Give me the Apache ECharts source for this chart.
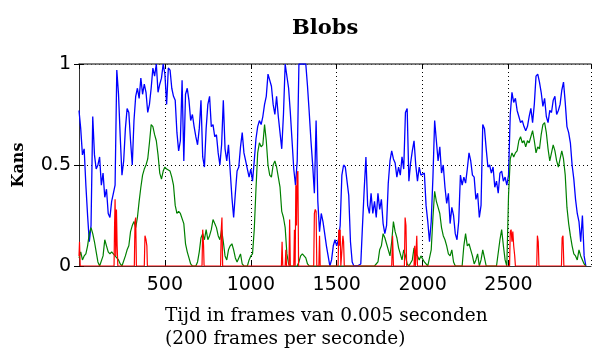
<!DOCTYPE html>
<html>
<head>
<meta charset="utf-8">
<script src="https://cdn.jsdelivr.net/npm/echarts@6/dist/echarts.min.js"></script>
<style>
  html, body { margin: 0; padding: 0; background: #fff; }
  #container { width: 593px; height: 349px; }
</style>
</head>
<body>
<div id="container"></div>
<script>
// frame step between samples (frames)
var frameStep = 10;

// blue: f = 0, 10, 20, ... 2950
var blueValues = [
  0.77, 0.68, 0.55, 0.58, 0.40, 0.25, 0.12, 0.20, 0.74, 0.55,
  0.48, 0.50, 0.54, 0.40, 0.46, 0.34, 0.38, 0.26, 0.24, 0.32,
  0.36, 0.40, 0.97, 0.85, 0.64, 0.45, 0.52, 0.68, 0.78, 0.76,
  0.62, 0.50, 0.72, 0.84, 0.88, 0.83, 0.93, 0.85, 0.90, 0.86,
  0.76, 0.80, 0.88, 0.98, 0.94, 1.00, 0.86, 0.90, 0.93, 1.00,
  0.95, 0.80, 0.98, 0.97, 0.88, 0.84, 0.82, 0.66, 0.57, 0.62,
  0.92, 0.52, 0.85, 0.88, 0.82, 0.72, 0.75, 0.69, 0.64, 0.60,
  0.68, 0.82, 0.54, 0.49, 0.68, 0.80, 0.84, 0.69, 0.70, 0.64,
  0.65, 0.56, 0.50, 0.60, 0.82, 0.58, 0.52, 0.60, 0.47, 0.34,
  0.24, 0.36, 0.47, 0.49, 0.59, 0.66, 0.56, 0.52, 0.48, 0.44,
  0.48, 0.42, 0.52, 0.63, 0.69, 0.72, 0.70, 0.74, 0.80, 0.84,
  0.95, 0.92, 0.89, 0.80, 0.75, 0.84, 0.74, 0.66, 0.58, 0.75,
  1.00, 1.00, 0.88, 0.76, 0.62, 0.48, 0.40, 0.52, 1.00, 1.00,
  1.00, 1.00, 1.00, 0.89, 0.76, 0.62, 0.50, 0.36, 0.72, 0.32,
  0.17, 0.26, 0.22, 0.16, 0.10, 0.05, 0.00, 0.03, 0.10, 0.13,
  0.10, 0.13, 0.20, 0.45, 0.50, 0.49, 0.49, 0.35, 0.12, 0.02,
  0.00, 0.00, 0.00, 0.00, 0.01, 0.20, 0.38, 0.54, 0.30, 0.26,
  0.36, 0.26, 0.32, 0.24, 0.36, 0.28, 0.33, 0.21, 0.16, 0.20,
  0.41, 0.52, 0.57, 0.53, 0.51, 0.44, 0.49, 0.45, 0.54, 0.48,
  0.76, 0.78, 0.42, 0.51, 0.57, 0.62, 0.50, 0.42, 0.49, 0.45,
  0.45, 0.46, 0.30, 0.22, 0.12, 0.22, 0.44, 0.72, 0.62, 0.52,
  0.59, 0.46, 0.50, 0.39, 0.31, 0.36, 0.21, 0.29, 0.25, 0.16,
  0.13, 0.22, 0.45, 0.40, 0.44, 0.41, 0.48, 0.56, 0.52, 0.45,
  0.44, 0.33, 0.36, 0.24, 0.30, 0.70, 0.68, 0.58, 0.49, 0.50,
  0.46, 0.49, 0.39, 0.42, 0.36, 0.46, 0.47, 0.42, 0.44, 0.40,
  0.45, 0.75, 0.86, 0.81, 0.83, 0.77, 0.74, 0.71, 0.72, 0.69,
  0.67, 0.69, 0.74, 0.78, 0.71, 0.80, 0.94, 0.95, 0.91, 0.86,
  0.79, 0.83, 0.74, 0.71, 0.77, 0.76, 0.82, 0.84, 0.75, 0.77,
  0.80, 0.87, 0.91, 0.81, 0.69, 0.66, 0.61, 0.50, 0.43, 0.33,
  0.26, 0.22, 0.12, 0.25, 0.05, 0.00
];

// green: same frames as blue
var greenValues = [
  0.04, 0.07, 0.03, 0.05, 0.06, 0.10, 0.16, 0.19, 0.16, 0.12,
  0.07, 0.02, 0.00, 0.00, 0.05, 0.13, 0.10, 0.07, 0.06, 0.07,
  0.06, 0.05, 0.04, 0.03, 0.01, 0.00, 0.00, 0.05, 0.08, 0.10,
  0.17, 0.20, 0.22, 0.19, 0.24, 0.32, 0.39, 0.45, 0.48, 0.50,
  0.53, 0.61, 0.70, 0.69, 0.65, 0.62, 0.55, 0.46, 0.43, 0.47,
  0.49, 0.48, 0.48, 0.47, 0.44, 0.40, 0.30, 0.26, 0.27, 0.26,
  0.26, 0.21, 0.11, 0.07, 0.04, 0.01, 0.00, 0.00, 0.00, 0.02,
  0.07, 0.14, 0.16, 0.13, 0.18, 0.13, 0.15, 0.18, 0.23, 0.21,
  0.19, 0.15, 0.13, 0.18, 0.12, 0.05, 0.03, 0.08, 0.10, 0.11,
  0.08, 0.04, 0.02, 0.04, 0.06, 0.01, 0.00, 0.00, 0.00, 0.03,
  0.05, 0.06, 0.18, 0.38, 0.56, 0.61, 0.59, 0.60, 0.70, 0.62,
  0.50, 0.45, 0.44, 0.50, 0.52, 0.49, 0.44, 0.39, 0.27, 0.24,
  0.19, 0.06, 0.01, 0.00, 0.00, 0.00, 0.00, 0.00, 0.02, 0.05,
  0.06, 0.05, 0.04, 0.01, 0.00, 0.00, 0.00, 0.00, 0.00, 0.00,
  0.00, 0.00, 0.00, 0.00, 0.00, 0.00, 0.00, 0.00, 0.00, 0.00,
  0.00, 0.00, 0.00, 0.00, 0.00, 0.00, 0.00, 0.00, 0.00, 0.00,
  0.00, 0.00, 0.00, 0.00, 0.00, 0.00, 0.00, 0.00, 0.00, 0.00,
  0.00, 0.00, 0.00, 0.00, 0.02, 0.08, 0.10, 0.16, 0.14, 0.11,
  0.08, 0.05, 0.12, 0.22, 0.17, 0.14, 0.09, 0.06, 0.03, 0.08,
  0.05, 0.01, 0.00, 0.00, 0.03, 0.09, 0.06, 0.05, 0.03, 0.05,
  0.05, 0.02, 0.01, 0.00, 0.00, 0.08, 0.24, 0.37, 0.32, 0.29,
  0.26, 0.19, 0.15, 0.13, 0.10, 0.06, 0.05, 0.08, 0.02, 0.00,
  0.00, 0.00, 0.00, 0.00, 0.10, 0.16, 0.10, 0.11, 0.08, 0.05,
  0.01, 0.03, 0.06, 0.00, 0.03, 0.08, 0.04, 0.00, 0.00, 0.00,
  0.00, 0.00, 0.00, 0.00, 0.00, 0.13, 0.18, 0.10, 0.03, 0.00,
  0.35, 0.53, 0.56, 0.54, 0.56, 0.57, 0.62, 0.64, 0.61, 0.62,
  0.59, 0.62, 0.61, 0.64, 0.67, 0.62, 0.56, 0.59, 0.58, 0.65,
  0.70, 0.71, 0.66, 0.58, 0.52, 0.56, 0.60, 0.57, 0.52, 0.49,
  0.53, 0.57, 0.53, 0.45, 0.29, 0.21, 0.15, 0.10, 0.06, 0.05,
  0.03, 0.08, 0.05, 0.03, 0.01, 0.00
];

// red: short spikes, frame / value pairs
var redFrames = [
  0, 3, 7,
  204, 207, 210, 214, 218, 222, 226,
  322, 326, 330, 334,
  380, 384, 390, 395, 398,
  716, 720, 725, 728,
  824, 828, 832, 836,
  1178, 1182, 1186, 1200, 1204, 1208, 1222, 1226, 1230,
  1250, 1254, 1258, 1262, 1266, 1270, 1274, 1278,
  1366, 1370, 1375, 1380, 1384, 1396, 1400, 1404,
  1508, 1512, 1516, 1520, 1524, 1532, 1536, 1540, 1544,
  1820, 1825, 1830,
  1894, 1898, 1903, 1907,
  1950, 1954, 1958, 1962, 1966, 1970,
  2506, 2510, 2515, 2520, 2525, 2530, 2536, 2540,
  2664, 2668, 2673, 2677,
  2808, 2812, 2817, 2822,
  2950
];
var redValues = [
  0.05, 0.12, 0.00,
  0.00, 0.20, 0.33, 0.05, 0.28, 0.10, 0.00,
  0.00, 0.22, 0.24, 0.00,
  0.00, 0.15, 0.13, 0.10, 0.00,
  0.00, 0.18, 0.10, 0.00,
  0.00, 0.18, 0.24, 0.00,
  0.00, 0.12, 0.00, 0.00, 0.08, 0.00, 0.00, 0.23, 0.00,
  0.00, 0.18, 0.00, 0.40, 0.20, 0.45, 0.47, 0.00,
  0.00, 0.26, 0.28, 0.27, 0.00, 0.00, 0.15, 0.00,
  0.00, 0.18, 0.10, 0.18, 0.00, 0.00, 0.15, 0.12, 0.00,
  0.00, 0.15, 0.00,
  0.00, 0.24, 0.20, 0.00,
  0.00, 0.10, 0.00, 0.00, 0.15, 0.00,
  0.00, 0.17, 0.18, 0.12, 0.17, 0.10, 0.05, 0.00,
  0.00, 0.15, 0.12, 0.00,
  0.00, 0.14, 0.15, 0.00,
  0.00
];

var xMax = 2980;

function stepPairs(values) {
  return values.map(function (v, i) { return [i * frameStep, v]; });
}
var redData = redFrames.map(function (f, i) { return [f, redValues[i]]; });

var dom = document.getElementById("container");
var myChart = echarts.init(dom, null, { renderer: "canvas" });

var dotted = { color: "#000", width: 1, type: [1, 3] };
var plain = function (v) { return String(v); };

var option = {
  animation: false,
  backgroundColor: "#fff",
  title: {
    text: "Blobs",
    left: 287,
    top: 13,
    textStyle: { fontFamily: "DejaVu Serif", fontWeight: "bold", fontSize: 21, color: "#000" },
  },
  grid: { left: 79, right: 2, top: 64, bottom: 83 },
  xAxis: [
    {
      type: "value",
      min: 0,
      max: xMax,
      interval: 500,
      axisLine: { show: true, lineStyle: { color: "#333", width: 1 } },
      axisTick: { show: true, inside: true, length: 5, lineStyle: { color: "#000" } },
      splitLine: { show: true, lineStyle: dotted },
      axisLabel: {
        showMinLabel: false,
        showMaxLabel: false,
        formatter: plain,
        fontFamily: "DejaVu Sans",
        fontSize: 19,
        color: "#000",
        margin: 10,
      },
    },
    {
      type: "value",
      position: "top",
      min: 0,
      max: xMax,
      interval: 500,
      axisLine: { show: true, onZero: false, lineStyle: { color: "#555", width: 1.5 } },
      axisTick: { show: true, inside: true, length: 5, lineStyle: { color: "#000" } },
      splitLine: { show: false },
      axisLabel: { show: false },
    },
  ],
  yAxis: [
    {
      type: "value",
      min: 0,
      max: 1,
      interval: 0.5,
      name: "Kans",
      nameLocation: "middle",
      nameGap: 52,
      nameTextStyle: { fontFamily: "DejaVu Serif", fontWeight: "bold", fontSize: 16, color: "#000" },
      axisLine: { show: true, lineStyle: { color: "#333", width: 1 } },
      axisTick: { show: true, inside: true, length: 5, lineStyle: { color: "#000" } },
      splitLine: { show: true, lineStyle: dotted },
      axisLabel: { formatter: plain, fontFamily: "DejaVu Sans", fontSize: 19, color: "#000", margin: 8 },
    },
    {
      type: "value",
      position: "right",
      min: 0,
      max: 1,
      interval: 0.5,
      axisLine: { show: false },
      axisTick: { show: true, inside: true, length: 5, lineStyle: { color: "#000" } },
      splitLine: { show: false },
      axisLabel: { show: false },
    },
  ],
  graphic: [
    {
      type: "text",
      left: 165,
      top: 305,
      style: {
        text: "Tijd in frames van 0.005 seconden\n(200 frames per seconde)",
        font: '18.5px "DejaVu Serif"',
        fill: "#000",
        lineHeight: 23,
      },
    },
  ],
  series: [
    {
      name: "blue",
      type: "line",
      data: stepPairs(blueValues),
      showSymbol: false,
      lineStyle: { color: "#0000ff", width: 1.3 },
      itemStyle: { color: "#0000ff" },
    },
    {
      name: "green",
      type: "line",
      data: stepPairs(greenValues),
      showSymbol: false,
      lineStyle: { color: "#008000", width: 1.2 },
      itemStyle: { color: "#008000" },
    },
    {
      name: "red",
      type: "line",
      data: redData,
      showSymbol: false,
      lineStyle: { color: "#ff0000", width: 1.2 },
      itemStyle: { color: "#ff0000" },
    },
  ],
};

myChart.setOption(option);
</script>
</body>
</html>
